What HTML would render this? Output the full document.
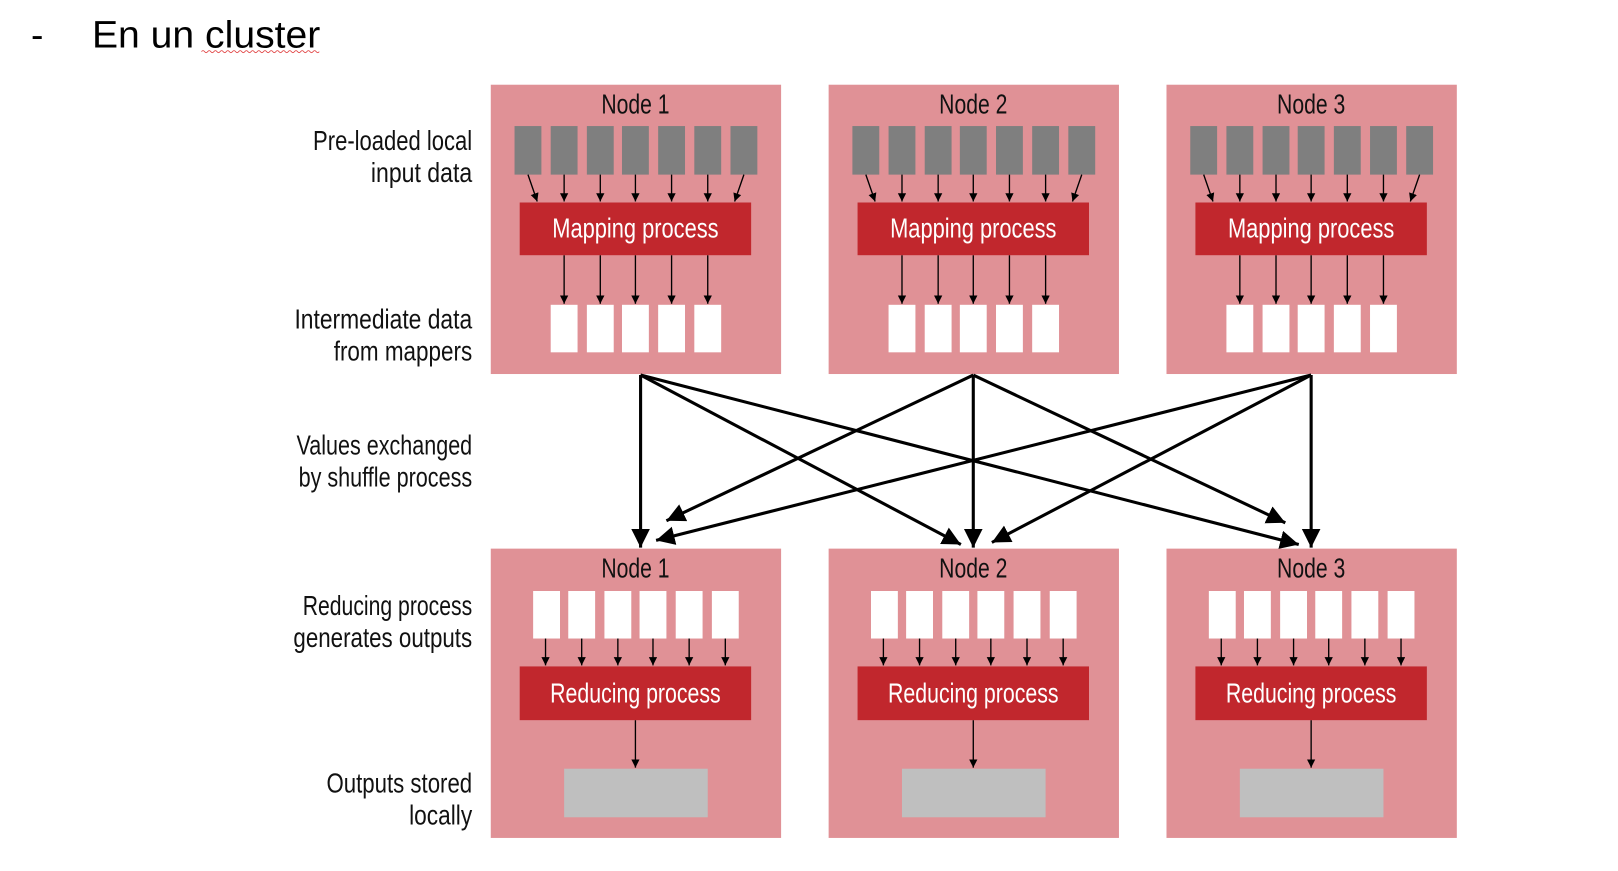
<!DOCTYPE html>
<html><head><meta charset="utf-8"><style>
html,body{margin:0;padding:0;background:#fff;width:1618px;height:871px;overflow:hidden}
svg{display:block}
text{font-family:"Liberation Sans",sans-serif}
.lbl{font-size:27px;fill:#111;text-anchor:end}
.ttl{font-size:27px;fill:#111;text-anchor:middle}
.wt{font-size:27px;fill:#fff;text-anchor:middle}
</style></head><body>
<svg width="1618" height="871" viewBox="0 0 1566 843" preserveAspectRatio="none" xmlns="http://www.w3.org/2000/svg">
<defs>
<marker id="sa" markerUnits="userSpaceOnUse" markerWidth="10" markerHeight="10" refX="8" refY="4" orient="auto"><path d="M0,0 L8,4 L0,8 z" fill="#000"/></marker>
<marker id="la" markerUnits="userSpaceOnUse" markerWidth="22" markerHeight="22" refX="18" refY="9" orient="auto"><path d="M0,0 L18,9 L0,18 z" fill="#000"/></marker>
<g id="top">
<rect x="0" y="0" width="281" height="280" fill="#e09196"/>
<g fill="#7f7f7f">
<rect x="23" y="40" width="26" height="47"/><rect x="58" y="40" width="26" height="47"/><rect x="93" y="40" width="26" height="47"/><rect x="127" y="40" width="26" height="47"/><rect x="162" y="40" width="26" height="47"/><rect x="197" y="40" width="26" height="47"/><rect x="232" y="40" width="26" height="47"/>
</g>
<g stroke="#000" stroke-width="1.3" marker-end="url(#sa)">
<line x1="36" y1="87" x2="45" y2="113"/><line x1="71" y1="87" x2="71" y2="113"/><line x1="106" y1="87" x2="106" y2="113"/><line x1="140" y1="87" x2="140" y2="113"/><line x1="175" y1="87" x2="175" y2="113"/><line x1="210" y1="87" x2="210" y2="113"/><line x1="245" y1="87" x2="236" y2="113"/>
<line x1="71" y1="165" x2="71" y2="212"/><line x1="106" y1="165" x2="106" y2="212"/><line x1="140" y1="165" x2="140" y2="212"/><line x1="175" y1="165" x2="175" y2="212"/><line x1="210" y1="165" x2="210" y2="212"/>
</g>
<rect x="28" y="114" width="224" height="51" fill="#c1272d"/>
<g fill="#fff">
<rect x="58" y="213" width="26" height="46"/><rect x="93" y="213" width="26" height="46"/><rect x="127" y="213" width="26" height="46"/><rect x="162" y="213" width="26" height="46"/><rect x="197" y="213" width="26" height="46"/>
</g>
</g>
<g id="bot">
<rect x="0" y="0" width="281" height="280" fill="#e09196"/>
<g fill="#fff">
<rect x="41" y="41" width="26" height="46"/><rect x="75" y="41" width="26" height="46"/><rect x="110" y="41" width="26" height="46"/><rect x="144" y="41" width="26" height="46"/><rect x="179" y="41" width="26" height="46"/><rect x="214" y="41" width="26" height="46"/>
</g>
<g stroke="#000" stroke-width="1.3" marker-end="url(#sa)">
<line x1="53" y1="87" x2="53" y2="113"/><line x1="88" y1="87" x2="88" y2="113"/><line x1="123" y1="87" x2="123" y2="113"/><line x1="157" y1="87" x2="157" y2="113"/><line x1="192" y1="87" x2="192" y2="113"/><line x1="227" y1="87" x2="227" y2="113"/>
<line x1="140" y1="166" x2="140" y2="212"/>
</g>
<rect x="28" y="114" width="224" height="52" fill="#c1272d"/>
<rect x="71" y="213" width="139" height="47" fill="#bfbfbf"/>
</g>
</defs>

<text x="30" y="46" style="font-size:36px;fill:#000">-</text>
<text x="89" y="46" style="font-size:37px;fill:#000" textLength="221" lengthAdjust="spacingAndGlyphs">En un cluster</text>
<path d="M195,50 q1.5,-2 3,0 t3,0 t3,0 t3,0 t3,0 t3,0 t3,0 t3,0 t3,0 t3,0 t3,0 t3,0 t3,0 t3,0 t3,0 t3,0 t3,0 t3,0 t3,0 t3,0 t3,0 t3,0 t3,0 t3,0 t3,0 t3,0 t3,0 t3,0 t3,0 t3,0 t3,0 t3,0 t3,0 t3,0 t3,0 t3,0 t3,0 t3,0" stroke="#e04040" stroke-width="0.8" fill="none"/>

<use href="#top" x="475" y="82"/><use href="#top" x="802" y="82"/><use href="#top" x="1129" y="82"/>
<use href="#bot" x="475" y="531"/><use href="#bot" x="802" y="531"/><use href="#bot" x="1129" y="531"/>

<text class="ttl" x="615" y="110" textLength="66" lengthAdjust="spacingAndGlyphs">Node 1</text>
<text class="ttl" x="942" y="110" textLength="66" lengthAdjust="spacingAndGlyphs">Node 2</text>
<text class="ttl" x="1269" y="110" textLength="66" lengthAdjust="spacingAndGlyphs">Node 3</text>
<text class="ttl" x="615" y="559" textLength="66" lengthAdjust="spacingAndGlyphs">Node 1</text>
<text class="ttl" x="942" y="559" textLength="66" lengthAdjust="spacingAndGlyphs">Node 2</text>
<text class="ttl" x="1269" y="559" textLength="66" lengthAdjust="spacingAndGlyphs">Node 3</text>

<text class="wt" x="615" y="230" textLength="161" lengthAdjust="spacingAndGlyphs">Mapping process</text>
<text class="wt" x="942" y="230" textLength="161" lengthAdjust="spacingAndGlyphs">Mapping process</text>
<text class="wt" x="1269" y="230" textLength="161" lengthAdjust="spacingAndGlyphs">Mapping process</text>
<text class="wt" x="615" y="680" textLength="165" lengthAdjust="spacingAndGlyphs">Reducing process</text>
<text class="wt" x="942" y="680" textLength="165" lengthAdjust="spacingAndGlyphs">Reducing process</text>
<text class="wt" x="1269" y="680" textLength="165" lengthAdjust="spacingAndGlyphs">Reducing process</text>

<text class="lbl" x="457" y="145" textLength="154" lengthAdjust="spacingAndGlyphs">Pre-loaded local</text>
<text class="lbl" x="457" y="176" textLength="98" lengthAdjust="spacingAndGlyphs">input data</text>
<text class="lbl" x="457" y="318" textLength="172" lengthAdjust="spacingAndGlyphs">Intermediate data</text>
<text class="lbl" x="457" y="349" textLength="134" lengthAdjust="spacingAndGlyphs">from mappers</text>
<text class="lbl" x="457" y="440" textLength="170" lengthAdjust="spacingAndGlyphs">Values exchanged</text>
<text class="lbl" x="457" y="471" textLength="168" lengthAdjust="spacingAndGlyphs">by shuffle process</text>
<text class="lbl" x="457" y="595" textLength="164" lengthAdjust="spacingAndGlyphs">Reducing process</text>
<text class="lbl" x="457" y="626" textLength="173" lengthAdjust="spacingAndGlyphs">generates outputs</text>
<text class="lbl" x="457" y="767" textLength="141" lengthAdjust="spacingAndGlyphs">Outputs stored</text>
<text class="lbl" x="457" y="798" textLength="61" lengthAdjust="spacingAndGlyphs">locally</text>

<g stroke="#000" stroke-width="3" marker-end="url(#la)" fill="none">
<line x1="620" y1="363" x2="620" y2="530"/>
<line x1="620" y1="363" x2="930" y2="527"/>
<line x1="620" y1="363" x2="1257" y2="527"/>
<line x1="942" y1="363" x2="645" y2="504"/>
<line x1="942" y1="363" x2="942" y2="530"/>
<line x1="942" y1="363" x2="1244" y2="506"/>
<line x1="1269" y1="363" x2="635" y2="523"/>
<line x1="1269" y1="363" x2="960" y2="525"/>
<line x1="1269" y1="363" x2="1269" y2="530"/>
</g>
</svg>
</body></html>
